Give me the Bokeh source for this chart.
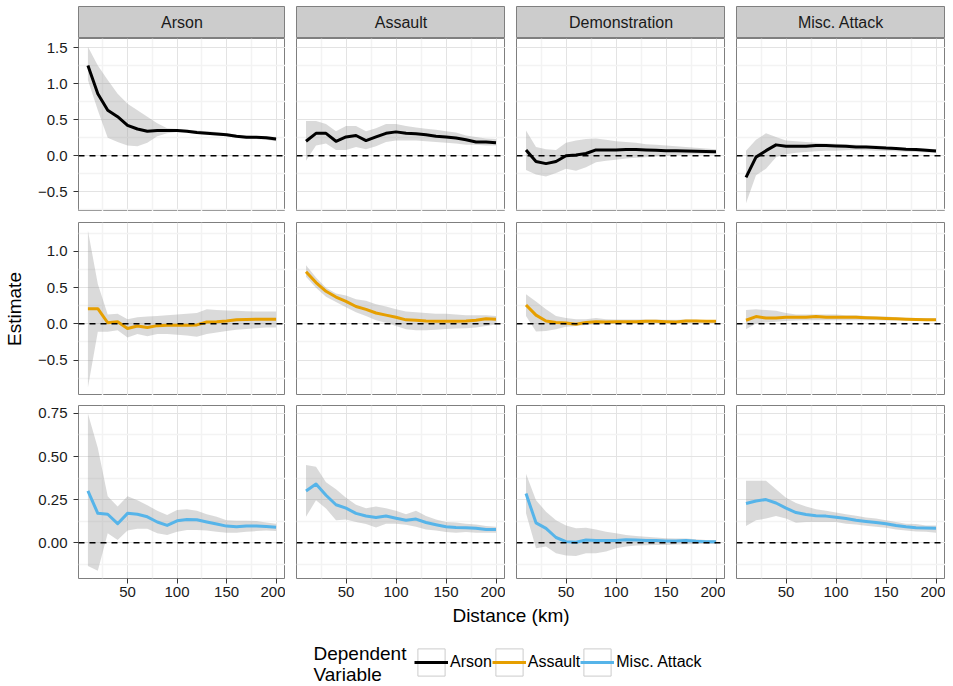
from bokeh.plotting import figure
from bokeh.models import (Range1d, FixedTicker, Span, Label, Legend, LegendItem,
                          CustomJSTickFormatter, LinearAxis, Grid)
from bokeh.layouts import column, row
from bokeh.embed import file_html
from bokeh.resources import INLINE

FONT = "Liberation Sans"

# ---------------- data ----------------
distance = [10, 20, 30, 40, 50, 60, 70, 80, 90, 100,
            110, 120, 130, 140, 150, 160, 170, 180, 190, 200]

iv_names = ["Arson", "Assault", "Demonstration", "Misc. Attack"]
dv_names = ["Arson", "Assault", "Misc. Attack"]
dv_colors = ["#000000", "#E69F00", "#56B4E9"]
x_title = "Distance (km)"
y_title = "Estimate"
legend_title = "Dependent\nVariable"

# Dependent variable: Arson
arson_arson_est = [1.25, 0.86, 0.63, 0.54, 0.42, 0.37, 0.34, 0.35, 0.35, 0.35, 0.34, 0.32, 0.31, 0.30, 0.29, 0.27, 0.255, 0.255, 0.25, 0.23]
arson_arson_hi = [1.51, 1.25, 1.05, 0.86, 0.72, 0.63, 0.54, 0.45, 0.38, 0.37, 0.36, 0.35, 0.34, 0.33, 0.31, 0.29, 0.28, 0.27, 0.27, 0.26]
arson_arson_lo = [1.05, 0.63, 0.25, 0.19, 0.14, 0.13, 0.18, 0.27, 0.31, 0.33, 0.32, 0.30, 0.29, 0.28, 0.27, 0.25, 0.24, 0.23, 0.22, 0.20]

arson_assault_est = [0.20, 0.31, 0.31, 0.20, 0.26, 0.28, 0.21, 0.26, 0.31, 0.33, 0.31, 0.305, 0.29, 0.27, 0.26, 0.245, 0.22, 0.19, 0.19, 0.18]
arson_assault_hi = [0.48, 0.48, 0.44, 0.34, 0.41, 0.41, 0.34, 0.38, 0.44, 0.44, 0.41, 0.39, 0.375, 0.36, 0.34, 0.32, 0.28, 0.26, 0.24, 0.23]
arson_assault_lo = [-0.07, 0.14, 0.17, 0.08, 0.08, 0.12, 0.09, 0.13, 0.19, 0.21, 0.21, 0.21, 0.20, 0.19, 0.18, 0.17, 0.15, 0.15, 0.14, 0.14]

arson_demo_est = [0.08, -0.08, -0.11, -0.08, 0.0, 0.01, 0.03, 0.08, 0.08, 0.08, 0.085, 0.085, 0.08, 0.075, 0.07, 0.068, 0.065, 0.06, 0.058, 0.055]
arson_demo_hi = [0.35, 0.12, 0.09, 0.08, 0.18, 0.21, 0.23, 0.24, 0.22, 0.20, 0.19, 0.18, 0.16, 0.15, 0.14, 0.13, 0.12, 0.11, 0.10, 0.09]
arson_demo_lo = [-0.20, -0.26, -0.29, -0.24, -0.18, -0.21, -0.16, -0.09, -0.07, -0.055, -0.04, -0.03, -0.02, -0.01, 0.0, 0.01, 0.015, 0.02, 0.02, 0.02]

arson_misc_est = [-0.30, -0.02, 0.07, 0.15, 0.13, 0.13, 0.13, 0.14, 0.14, 0.135, 0.13, 0.12, 0.12, 0.115, 0.105, 0.10, 0.09, 0.085, 0.075, 0.065]
arson_misc_hi = [0.07, 0.22, 0.31, 0.26, 0.21, 0.20, 0.19, 0.18, 0.17, 0.165, 0.16, 0.15, 0.145, 0.14, 0.13, 0.12, 0.11, 0.105, 0.10, 0.09]
arson_misc_lo = [-0.66, -0.27, -0.18, -0.02, 0.02, 0.04, 0.05, 0.06, 0.07, 0.07, 0.075, 0.08, 0.075, 0.07, 0.065, 0.06, 0.055, 0.05, 0.045, 0.04]

# Dependent variable: Assault
assault_arson_est = [0.21, 0.21, 0.015, 0.03, -0.065, -0.03, -0.05, -0.025, -0.02, -0.02, -0.02, -0.015, 0.025, 0.03, 0.04, 0.055, 0.06, 0.065, 0.065, 0.065]
assault_arson_hi = [1.29, 0.55, 0.13, 0.14, 0.065, 0.09, 0.10, 0.11, 0.12, 0.13, 0.14, 0.15, 0.20, 0.19, 0.185, 0.18, 0.175, 0.17, 0.17, 0.17]
assault_arson_lo = [-0.88, -0.11, -0.11, -0.09, -0.19, -0.14, -0.17, -0.14, -0.14, -0.15, -0.16, -0.18, -0.14, -0.12, -0.10, -0.08, -0.07, -0.06, -0.05, -0.05]

assault_assault_est = [0.72, 0.57, 0.45, 0.37, 0.31, 0.24, 0.20, 0.15, 0.12, 0.09, 0.055, 0.05, 0.04, 0.035, 0.035, 0.035, 0.04, 0.05, 0.07, 0.065]
assault_assault_hi = [0.81, 0.64, 0.50, 0.42, 0.39, 0.34, 0.32, 0.27, 0.24, 0.20, 0.17, 0.16, 0.15, 0.14, 0.14, 0.13, 0.12, 0.12, 0.12, 0.11]
assault_assault_lo = [0.65, 0.50, 0.375, 0.30, 0.23, 0.16, 0.11, 0.05, 0.015, -0.03, -0.075, -0.09, -0.09, -0.08, -0.07, -0.065, -0.06, -0.05, -0.03, -0.01]

assault_demo_est = [0.26, 0.12, 0.04, 0.02, 0.01, -0.005, 0.02, 0.03, 0.025, 0.03, 0.03, 0.03, 0.035, 0.035, 0.03, 0.025, 0.04, 0.04, 0.035, 0.035]
assault_demo_hi = [0.41, 0.31, 0.20, 0.11, 0.08, 0.065, 0.065, 0.08, 0.065, 0.06, 0.06, 0.06, 0.06, 0.06, 0.055, 0.055, 0.06, 0.055, 0.05, 0.05]
assault_demo_lo = [0.11, -0.105, -0.10, -0.075, -0.04, -0.03, -0.015, -0.01, -0.005, 0.0, 0.0, 0.005, 0.01, 0.01, 0.01, 0.01, 0.015, 0.015, 0.015, 0.015]

assault_misc_est = [0.05, 0.10, 0.08, 0.08, 0.09, 0.09, 0.09, 0.10, 0.09, 0.09, 0.09, 0.09, 0.085, 0.08, 0.075, 0.07, 0.065, 0.06, 0.055, 0.055]
assault_misc_hi = [0.19, 0.20, 0.19, 0.18, 0.15, 0.13, 0.13, 0.13, 0.13, 0.13, 0.12, 0.12, 0.11, 0.10, 0.10, 0.09, 0.085, 0.08, 0.08, 0.075]
assault_misc_lo = [-0.075, 0.005, 0.02, 0.03, 0.04, 0.045, 0.05, 0.05, 0.05, 0.05, 0.05, 0.05, 0.05, 0.05, 0.045, 0.045, 0.045, 0.04, 0.04, 0.04]

# Dependent variable: Misc. Attack
misc_arson_est = [0.30, 0.17, 0.165, 0.11, 0.17, 0.165, 0.15, 0.12, 0.10, 0.127, 0.135, 0.133, 0.12, 0.108, 0.096, 0.092, 0.096, 0.096, 0.094, 0.09]
misc_arson_hi = [0.75, 0.55, 0.27, 0.21, 0.27, 0.246, 0.217, 0.185, 0.16, 0.19, 0.194, 0.185, 0.165, 0.15, 0.13, 0.127, 0.127, 0.125, 0.117, 0.11]
misc_arson_lo = [-0.135, -0.163, 0.054, 0.015, 0.07, 0.08, 0.08, 0.054, 0.044, 0.063, 0.073, 0.073, 0.07, 0.063, 0.058, 0.058, 0.063, 0.067, 0.07, 0.067]

misc_assault_est = [0.30, 0.34, 0.275, 0.22, 0.20, 0.17, 0.155, 0.146, 0.155, 0.142, 0.13, 0.137, 0.117, 0.104, 0.092, 0.088, 0.087, 0.083, 0.077, 0.077]
misc_assault_hi = [0.45, 0.44, 0.35, 0.31, 0.26, 0.22, 0.20, 0.21, 0.20, 0.185, 0.165, 0.185, 0.154, 0.135, 0.12, 0.117, 0.11, 0.106, 0.096, 0.092]
misc_assault_lo = [0.15, 0.246, 0.198, 0.13, 0.135, 0.12, 0.108, 0.088, 0.11, 0.11, 0.104, 0.092, 0.077, 0.07, 0.062, 0.058, 0.062, 0.058, 0.058, 0.058]

misc_demo_est = [0.285, 0.115, 0.083, 0.03, 0.006, 0.002, 0.015, 0.012, 0.013, 0.013, 0.017, 0.015, 0.013, 0.012, 0.01, 0.01, 0.012, 0.008, 0.006, 0.006]
misc_demo_hi = [0.40, 0.246, 0.18, 0.13, 0.10, 0.083, 0.087, 0.077, 0.063, 0.054, 0.044, 0.038, 0.035, 0.03, 0.025, 0.024, 0.024, 0.02, 0.015, 0.015]
misc_demo_lo = [0.17, -0.033, -0.023, -0.062, -0.075, -0.077, -0.062, -0.062, -0.052, -0.033, -0.023, -0.017, -0.015, -0.014, -0.013, -0.01, -0.009, -0.008, -0.008, -0.008]

misc_misc_est = [0.227, 0.242, 0.25, 0.23, 0.20, 0.175, 0.163, 0.156, 0.154, 0.148, 0.14, 0.13, 0.123, 0.117, 0.11, 0.10, 0.092, 0.087, 0.085, 0.083]
misc_misc_hi = [0.36, 0.36, 0.36, 0.31, 0.26, 0.23, 0.21, 0.194, 0.185, 0.175, 0.165, 0.156, 0.146, 0.14, 0.13, 0.12, 0.11, 0.108, 0.10, 0.10]
misc_misc_lo = [0.096, 0.13, 0.14, 0.154, 0.14, 0.115, 0.12, 0.12, 0.12, 0.12, 0.11, 0.106, 0.098, 0.092, 0.087, 0.077, 0.07, 0.065, 0.063, 0.058]

panels = [
    [(arson_arson_est, arson_arson_lo, arson_arson_hi),
     (arson_assault_est, arson_assault_lo, arson_assault_hi),
     (arson_demo_est, arson_demo_lo, arson_demo_hi),
     (arson_misc_est, arson_misc_lo, arson_misc_hi)],
    [(assault_arson_est, assault_arson_lo, assault_arson_hi),
     (assault_assault_est, assault_assault_lo, assault_assault_hi),
     (assault_demo_est, assault_demo_lo, assault_demo_hi),
     (assault_misc_est, assault_misc_lo, assault_misc_hi)],
    [(misc_arson_est, misc_arson_lo, misc_arson_hi),
     (misc_assault_est, misc_assault_lo, misc_assault_hi),
     (misc_demo_est, misc_demo_lo, misc_demo_hi),
     (misc_misc_est, misc_misc_lo, misc_misc_hi)],
]

x_ticks = [50, 100, 150, 200]
x_minor = [25, 75, 125, 175]
y_ticks = [[-0.5, 0.0, 0.5, 1.0, 1.5], [-1.0, -0.5, 0.0, 0.5, 1.0], [0.0, 0.25, 0.5, 0.75]]
y_minor = [[-0.75, -0.25, 0.25, 0.75, 1.25], [-0.75, -0.25, 0.25, 0.75, 1.25], [-0.125, 0.125, 0.375, 0.625]]
y_decimals = [1, 1, 2]
y_limits = [(-0.774, 1.625), (-0.99, 1.40), (-0.208, 0.796)]
x_limits = (0.5, 209.5)

# ---------------- layout / style ----------------
FRAME_W = 209
FRAME_H = 173
LEFT0 = 76
GAP = 11
TOP0 = 6
STRIP_H = 32
BOTTOM_AX = 27
FOOT_H = 80
row_gaps = [0, 11, 10]

BORDER = "#7f7f7f"
TXT = "#1a1a1a"


def style_axis(ax):
    ax.axis_line_color = None
    ax.major_tick_line_color = "#333333"
    ax.major_tick_out = 5
    ax.major_tick_in = 0
    ax.minor_tick_out = 0
    ax.minor_tick_in = 0
    ax.major_label_text_font = FONT
    ax.major_label_text_font_size = "15px"
    ax.major_label_text_color = TXT


def make_panel(r, c):
    est, lo, hi = panels[r][c]
    ml = LEFT0 if c == 0 else GAP
    mb = BOTTOM_AX if r == 2 else 0
    mt = row_gaps[r]
    p = figure(width=ml + FRAME_W, height=mt + FRAME_H + mb,
               x_range=Range1d(*x_limits), y_range=Range1d(*y_limits[r]),
               x_axis_location=None, y_axis_location=None,
               toolbar_location=None, output_backend="svg",
               min_border_left=ml, min_border_right=0,
               min_border_top=mt, min_border_bottom=mb,
               background_fill_color="white", border_fill_color="white",
               outline_line_color=BORDER, outline_line_width=1)
    p.center = [g for g in p.center if not isinstance(g, Grid)]
    gx = Grid(dimension=0, ticker=FixedTicker(ticks=x_ticks, minor_ticks=x_minor),
              grid_line_color="#e3e3e3", grid_line_width=1,
              minor_grid_line_color="#f3f3f3", minor_grid_line_width=1.5)
    gy = Grid(dimension=1, ticker=FixedTicker(ticks=y_ticks[r], minor_ticks=y_minor[r]),
              grid_line_color="#e3e3e3", grid_line_width=1,
              minor_grid_line_color="#f3f3f3", minor_grid_line_width=1.5)
    p.add_layout(gx, "center")
    p.add_layout(gy, "center")

    p.varea(x=distance, y1=lo, y2=hi, fill_color="#999999", fill_alpha=0.36)
    p.line(x=distance, y=est, line_color=dv_colors[r], line_width=3,
           line_join="round")
    p.add_layout(Span(location=0, dimension="width", line_color="black",
                      line_width=1.5, line_dash="6 5"))

    if c == 0:
        yax = LinearAxis(ticker=FixedTicker(ticks=y_ticks[r]),
                         formatter=CustomJSTickFormatter(code=(
                             "const s = Math.abs(tick).toFixed(%d);"
                             "return (tick < -1e-9 ? '\\u2212' : '') + s;" % y_decimals[r])))
        style_axis(yax)
        yax.major_label_standoff = 6
        if r == 1:
            yax.axis_label = y_title
            yax.axis_label_text_font = FONT
            yax.axis_label_text_font_size = "19px"
            yax.axis_label_text_font_style = "normal"
            yax.axis_label_text_color = "black"
            yax.axis_label_standoff = 10
        p.add_layout(yax, "left")
    if r == 2:
        xax = LinearAxis(ticker=FixedTicker(ticks=x_ticks))
        style_axis(xax)
        xax.major_label_standoff = 3
        p.add_layout(xax, "below")
    return p


def make_strip(c):
    ml = LEFT0 if c == 0 else GAP
    s = figure(width=ml + FRAME_W, height=TOP0 + STRIP_H,
               x_range=Range1d(0, 1), y_range=Range1d(0, 1),
               x_axis_location=None, y_axis_location=None,
               toolbar_location=None, output_backend="svg",
               min_border_left=ml, min_border_right=0,
               min_border_top=TOP0, min_border_bottom=0,
               background_fill_color="#cccccc", border_fill_color="white",
               outline_line_color=BORDER, outline_line_width=1)
    s.grid.visible = False
    s.add_layout(Label(x=0.5, y=0.5, text=iv_names[c], text_align="center",
                       text_baseline="middle", text_font=FONT,
                       text_font_size="16px", text_color=TXT))
    return s


cols = []
for c in range(4):
    cols.append(column([make_strip(c)] + [make_panel(r, c) for r in range(3)],
                       spacing=0))
grid_row = row(cols, spacing=0)

# footer: x-axis title + legend
TOTAL_W = LEFT0 + 4 * FRAME_W + 3 * GAP
FOOT_FRAME_W = TOTAL_W - LEFT0
footer = figure(width=TOTAL_W, height=FOOT_H,
                x_range=Range1d(*x_limits), y_range=Range1d(-5, -4),
                x_axis_location=None, y_axis_location=None,
                toolbar_location=None, output_backend="svg",
                min_border_left=LEFT0, min_border_right=0,
                min_border_top=0, min_border_bottom=0,
                outline_line_color=None, border_fill_color="white",
                background_fill_color="white")
footer.grid.visible = False

footer.add_layout(Label(x=FOOT_FRAME_W / 2, y=FOOT_H - 10, x_units="screen",
                        y_units="screen", text=x_title, text_align="center",
                        text_baseline="middle", text_font=FONT,
                        text_font_size="19px", text_color="black"))

footer.add_layout(Label(x=237, y=22, x_units="screen", y_units="screen",
                        text=legend_title, text_align="left",
                        text_baseline="middle", text_font=FONT,
                        text_font_size="19px", text_color="black",
                        text_line_height=1.0))

# legend proxies: hidden renderers (their data lie outside the footer's view)
items = []
for r, (name, colr) in enumerate(zip(dv_names, dv_colors)):
    est, lo, hi = panels[r][0]
    box = footer.quad(left=distance, right=distance, top=hi, bottom=lo,
                      fill_color="white", line_color="#cccccc", line_width=1,
                      visible=False)
    ln = footer.line(x=distance, y=est, line_color=colr, line_width=3,
                     visible=False)
    items.append(LegendItem(label=name, renderers=[box, ln]))

legend = Legend(items=items, orientation="horizontal", location=(338, 6),
                label_text_font=FONT, label_text_font_size="16px",
                label_text_color="black", label_standoff=2,
                glyph_width=34, glyph_height=34, spacing=0,
                padding=0, margin=0, border_line_color=None,
                background_fill_alpha=0, click_policy="none")
footer.add_layout(legend, "center")

layout = column([grid_row, footer], spacing=0)

with open("out.html", "w", encoding="utf-8") as fh:
    fh.write(file_html(layout, INLINE))
